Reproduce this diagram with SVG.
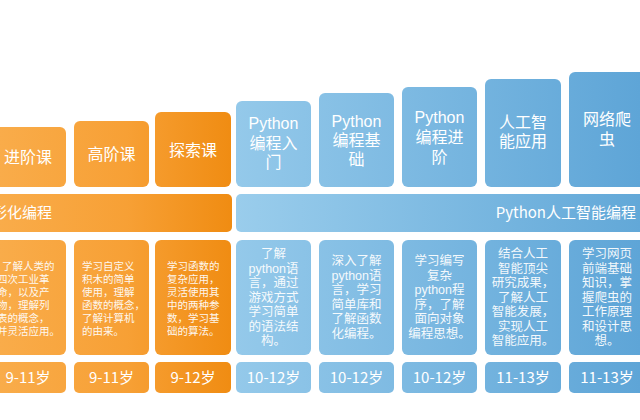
<svg xmlns="http://www.w3.org/2000/svg" width="640" height="420" viewBox="0 0 640 420">
<defs>
<linearGradient id="og" gradientUnits="userSpaceOnUse" x1="0" y1="0" x2="232" y2="0">
<stop offset="0" stop-color="#F9AC4A"/><stop offset="0.55" stop-color="#F7A035"/><stop offset="1" stop-color="#F08C12"/>
</linearGradient>
<linearGradient id="bg" gradientUnits="userSpaceOnUse" x1="236" y1="0" x2="640" y2="0">
<stop offset="0" stop-color="#94C9EA"/><stop offset="1" stop-color="#5EA5D7"/>
</linearGradient>
<linearGradient id="bgb" gradientUnits="userSpaceOnUse" x1="236" y1="0" x2="640" y2="0">
<stop offset="0" stop-color="#9ACDEC"/><stop offset="1" stop-color="#62A8D8"/>
</linearGradient>
</defs>
<style>
.o{fill:url(#og)}
.b{fill:url(#bg)}
.bb{fill:url(#bgb)}
text{font-family:"Noto Sans CJK SC","Noto Sans",sans-serif;fill:#fff}
.t{font-family:"Liberation Sans","Noto Sans CJK SC",sans-serif;font-size:16px;text-anchor:middle}
.band{font-size:15px}
.od{font-family:"Liberation Sans","Noto Sans CJK SC",sans-serif;font-size:10.5px;opacity:0.92}
.bd{font-family:"Liberation Sans","Noto Sans CJK SC",sans-serif;font-size:12.5px;text-anchor:middle;opacity:0.92}
.age{font-size:15px;text-anchor:middle}
</style>
<rect width="640" height="420" fill="#fff"/>

<g id="col1">
<rect class="o" x="-10" y="127" width="76" height="60" rx="6"/>
<text class="t" x="28" y="163">进阶课</text>
<rect class="o" x="-10" y="240" width="76" height="115" rx="6"/>
<text class="od" x="2" y="270">了解人类的</text>
<text class="od" x="-3" y="283">四次工业革</text>
<text class="od" x="-3" y="296">命，以及产</text>
<text class="od" x="-3" y="309">物，理解列</text>
<text class="od" x="-3" y="322">表的概念，</text>
<text class="od" x="-3" y="335">并灵活应用。</text>
<rect class="o" x="-10" y="362" width="76" height="31" rx="5"/>
<text class="age" x="28" y="383">9-11岁</text>
</g>

<g id="col2">
<rect class="o" x="74" y="121" width="75" height="66" rx="6"/>
<text class="t" x="111.5" y="160">高阶课</text>
<rect class="o" x="74" y="240" width="75" height="115" rx="6"/>
<text class="od" x="82" y="270">学习自定义</text>
<text class="od" x="82" y="283">积木的简单</text>
<text class="od" x="82" y="296">使用，理解</text>
<text class="od" x="82" y="309">函数的概念，</text>
<text class="od" x="82" y="322">了解计算机</text>
<text class="od" x="82" y="335">的由来。</text>
<rect class="o" x="74" y="362" width="75" height="31" rx="5"/>
<text class="age" x="111.5" y="383">9-11岁</text>
</g>

<g id="col3">
<rect class="o" x="155" y="112" width="76" height="75" rx="6"/>
<text class="t" x="193" y="156">探索课</text>
<rect class="o" x="155" y="240" width="76" height="115" rx="6"/>
<text class="od" x="167" y="270">学习函数的</text>
<text class="od" x="167" y="283">复杂应用，</text>
<text class="od" x="167" y="296">灵活使用其</text>
<text class="od" x="167" y="309">中的两种参</text>
<text class="od" x="167" y="322">数，学习基</text>
<text class="od" x="167" y="335">础的算法。</text>
<rect class="o" x="155" y="362" width="76" height="31" rx="5"/>
<text class="age" x="193" y="383">9-12岁</text>
</g>

<g id="band-orange">
<rect class="o" x="-10" y="194" width="242" height="38" rx="5"/>
<text class="band" x="52" y="218" text-anchor="end">图形化编程</text>
</g>

<g id="band-blue">
<rect class="bb" x="236" y="194" width="414" height="38" rx="5"/>
<text class="band" x="636" y="218" text-anchor="end">Python人工智能编程</text>
</g>

<g id="col4">
<rect class="b" x="236" y="101" width="75" height="86" rx="6"/>
<text class="t" x="273.5" y="129">Python</text>
<text class="t" x="273.5" y="149">编程入</text>
<text class="t" x="273.5" y="168">门</text>
<rect class="b" x="236" y="240" width="75" height="115" rx="6"/>
<text class="bd" x="273.5" y="258">了解</text>
<text class="bd" x="273.5" y="272.5">python语</text>
<text class="bd" x="273.5" y="287">言，通过</text>
<text class="bd" x="273.5" y="301.5">游戏方式</text>
<text class="bd" x="273.5" y="316">学习简单</text>
<text class="bd" x="273.5" y="330.5">的语法结</text>
<text class="bd" x="273.5" y="345">构。</text>
<rect class="b" x="236" y="362" width="75" height="31" rx="5"/>
<text class="age" x="273.5" y="383">10-12岁</text>
</g>

<g id="col5">
<rect class="b" x="319" y="93" width="75" height="94" rx="6"/>
<text class="t" x="356.5" y="127">Python</text>
<text class="t" x="356.5" y="146">编程基</text>
<text class="t" x="356.5" y="165">础</text>
<rect class="b" x="319" y="240" width="75" height="115" rx="6"/>
<text class="bd" x="356.5" y="265">深入了解</text>
<text class="bd" x="356.5" y="279.5">python语</text>
<text class="bd" x="356.5" y="294">言，学习</text>
<text class="bd" x="356.5" y="308.5">简单库和</text>
<text class="bd" x="356.5" y="323">了解函数</text>
<text class="bd" x="356.5" y="337.5">化编程。</text>
<rect class="b" x="319" y="362" width="75" height="31" rx="5"/>
<text class="age" x="356.5" y="383">10-12岁</text>
</g>

<g id="col6">
<rect class="b" x="402" y="87" width="75" height="100" rx="6"/>
<text class="t" x="439.5" y="123">Python</text>
<text class="t" x="439.5" y="143">编程进</text>
<text class="t" x="439.5" y="163">阶</text>
<rect class="b" x="402" y="240" width="75" height="115" rx="6"/>
<text class="bd" x="439.5" y="265">学习编写</text>
<text class="bd" x="439.5" y="279.5">复杂</text>
<text class="bd" x="439.5" y="294">python程</text>
<text class="bd" x="439.5" y="308.5">序，了解</text>
<text class="bd" x="439.5" y="323">面向对象</text>
<text class="bd" x="439.5" y="337.5">编程思想。</text>
<rect class="b" x="402" y="362" width="75" height="31" rx="5"/>
<text class="age" x="439.5" y="383">10-12岁</text>
</g>

<g id="col7">
<rect class="b" x="485" y="79" width="76" height="108" rx="6"/>
<text class="t" x="523" y="128">人工智</text>
<text class="t" x="523" y="147">能应用</text>
<rect class="b" x="485" y="240" width="76" height="115" rx="6"/>
<text class="bd" x="523" y="258">结合人工</text>
<text class="bd" x="523" y="272.5">智能顶尖</text>
<text class="bd" x="523" y="287">研究成果，</text>
<text class="bd" x="523" y="301.5">了解人工</text>
<text class="bd" x="523" y="316">智能发展，</text>
<text class="bd" x="523" y="330.5">实现人工</text>
<text class="bd" x="523" y="345">智能应用。</text>
<rect class="b" x="485" y="362" width="76" height="31" rx="5"/>
<text class="age" x="523" y="383">11-13岁</text>
</g>

<g id="col8">
<rect class="b" x="569" y="72" width="78" height="115" rx="6"/>
<text class="t" x="607" y="125">网络爬</text>
<text class="t" x="607" y="145">虫</text>
<rect class="b" x="569" y="240" width="78" height="115" rx="6"/>
<text class="bd" x="607" y="258">学习网页</text>
<text class="bd" x="607" y="272.5">前端基础</text>
<text class="bd" x="607" y="287">知识，掌</text>
<text class="bd" x="607" y="301.5">握爬虫的</text>
<text class="bd" x="607" y="316">工作原理</text>
<text class="bd" x="607" y="330.5">和设计思</text>
<text class="bd" x="607" y="345">想。</text>
<rect class="b" x="569" y="362" width="78" height="31" rx="5"/>
<text class="age" x="607" y="383">11-13岁</text>
</g>
</svg>
